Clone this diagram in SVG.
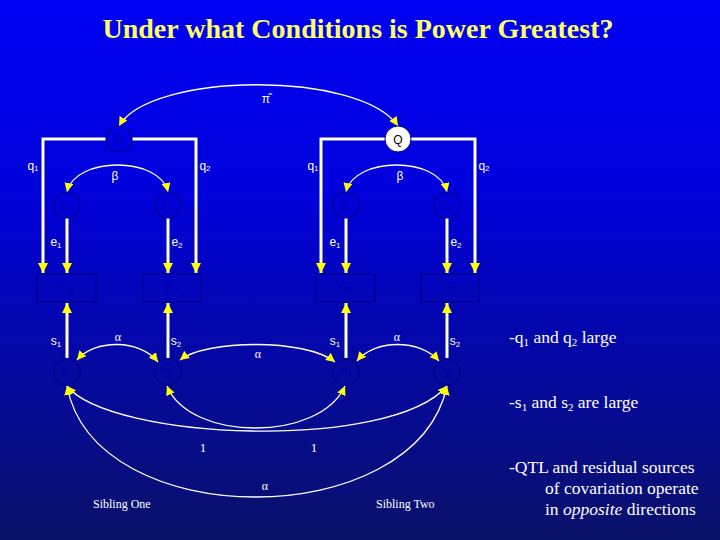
<svg xmlns="http://www.w3.org/2000/svg" width="720" height="540" viewBox="0 0 720 540">
<defs>
<linearGradient id="bg" x1="0" y1="0" x2="0" y2="1">
<stop offset="0" stop-color="#0000f4"/>
<stop offset="0.35" stop-color="#0000dc"/>
<stop offset="1" stop-color="#0a1168"/>
</linearGradient>
<marker id="ah" viewBox="0 0 10 10" refX="10" refY="5" markerWidth="9" markerHeight="9" markerUnits="userSpaceOnUse" orient="auto-start-reverse">
<path d="M0,0 L10,5 L0,10 z" fill="#ffff00"/>
</marker>
<marker id="ahb" viewBox="0 0 10 10" refX="10" refY="5" markerWidth="10" markerHeight="10" markerUnits="userSpaceOnUse" orient="auto-start-reverse">
<path d="M0,0 L10,5 L0,10 z" fill="#ffff00"/>
</marker>
</defs>
<style>
.node{fill:none;stroke:#000088;stroke-width:1.2}
.nl{font-family:"Liberation Sans",Arial,sans-serif;font-size:12px;fill:#0000a8;text-anchor:middle}
.line{fill:none;stroke:#ffffcc;stroke-width:3;marker-end:url(#ahb)}
.curve{fill:none;stroke:#ffffff;stroke-width:1.3;marker-start:url(#ah);marker-end:url(#ah)}
.lab{font-family:"Liberation Sans",Arial,sans-serif;font-size:12px;fill:#ffffff;text-anchor:middle}
.ser{font-family:"Liberation Serif","Times New Roman",serif;fill:#ffffff}
.side{font-family:"Liberation Serif","Times New Roman",serif;font-size:17.5px;fill:#ffffff}
.sub{font-size:8px}
</style>
<rect x="0" y="0" width="720" height="540" fill="url(#bg)"/>
<text x="358" y="38" text-anchor="middle" font-family="'Liberation Serif','Times New Roman',serif" font-size="28" font-weight="bold" fill="#ffff66">Under what Conditions is Power Greatest?</text>

<g id="connectors">
<path class="curve" d="M119,126 C150,72 360,70 398,126"/>
<path class="line" d="M106,139 H43 V273"/>
<path class="line" d="M132,139 H196 V273"/>
<path class="line" d="M385,139 H321 V273"/>
<path class="line" d="M411,139 H475 V273"/>
<path class="curve" d="M67,192 C75,156 160,156 168,192"/>
<path class="curve" d="M346,192 C354,156 439,156 447,192"/>
<path class="line" d="M67,218 V273"/>
<path class="line" d="M168,218 V273"/>
<path class="line" d="M346,218 V273"/>
<path class="line" d="M447,218 V273"/>
<path class="line" d="M67,358 V303"/>
<path class="line" d="M168,358 V303"/>
<path class="line" d="M346,358 V303"/>
<path class="line" d="M447,358 V303"/>
<path class="curve" d="M77,360 C95,339 140,339 158,362"/>
<path class="curve" d="M357,361 C375,339 420,339 439,361"/>
<path class="curve" d="M180,360 C205,340 305,338 335,362"/>
<path class="curve" d="M67,386 C110,440 390,452 447,386"/>
<path class="curve" d="M167,386 C190,442 320,442 345,386"/>
<path class="curve" d="M67,386 C95,534 415,534 447,386"/>
</g>

<g id="Q1"><circle class="node" cx="119" cy="139" r="13"/><text class="nl" x="119" y="144">Q</text></g>
<g id="Q2"><circle cx="398" cy="139" r="13" fill="#ffffff" stroke="#000088" stroke-width="1"/><text x="398" y="144" text-anchor="middle" font-family="'Liberation Sans',Arial,sans-serif" font-size="12" fill="#000000">Q</text></g>
<g id="E1a"><circle class="node" cx="67" cy="205" r="13"/><text class="nl" x="67" y="210">E<tspan class="sub">1</tspan></text></g>
<g id="E2a"><circle class="node" cx="168" cy="205" r="13"/><text class="nl" x="168" y="210">E<tspan class="sub">2</tspan></text></g>
<g id="E1b"><circle class="node" cx="346" cy="205" r="13"/><text class="nl" x="346" y="210">E<tspan class="sub">1</tspan></text></g>
<g id="E2b"><circle class="node" cx="447" cy="205" r="13"/><text class="nl" x="447" y="210">E<tspan class="sub">2</tspan></text></g>
<g id="Y11"><rect class="node" x="37" y="274" width="59" height="28"/><text class="nl" x="66" y="292">Y<tspan class="sub">11</tspan></text></g>
<g id="Y12"><rect class="node" x="143" y="274" width="58" height="28"/><text class="nl" x="172" y="292">Y<tspan class="sub">12</tspan></text></g>
<g id="Y21"><rect class="node" x="316" y="274" width="59" height="28"/><text class="nl" x="345" y="292">Y<tspan class="sub">21</tspan></text></g>
<g id="Y22"><rect class="node" x="421" y="274" width="58" height="28"/><text class="nl" x="450" y="292">Y<tspan class="sub">22</tspan></text></g>
<g id="S1a"><circle class="node" cx="67" cy="372" r="13"/><text class="nl" x="67" y="377">S<tspan class="sub">1</tspan></text></g>
<g id="S2a"><circle class="node" cx="168" cy="372" r="13"/><text class="nl" x="168" y="377">S<tspan class="sub">2</tspan></text></g>
<g id="S1b"><circle class="node" cx="346" cy="372" r="13"/><text class="nl" x="346" y="377">S<tspan class="sub">1</tspan></text></g>
<g id="S2b"><circle class="node" cx="447" cy="372" r="13"/><text class="nl" x="447" y="377">S<tspan class="sub">2</tspan></text></g>

<g id="labels">
<text class="lab" x="266" y="103" font-family="'DejaVu Serif',serif" font-size="12">π̂</text>
<text class="lab" x="33" y="170">q<tspan class="sub" dy="1">1</tspan></text>
<text class="lab" x="205" y="170">q<tspan class="sub" dy="1">2</tspan></text>
<text class="lab" x="313" y="170">q<tspan class="sub" dy="1">1</tspan></text>
<text class="lab" x="484" y="170">q<tspan class="sub" dy="1">2</tspan></text>
<text class="lab" x="115" y="180" font-family="'DejaVu Sans',sans-serif" font-size="11">β</text>
<text class="lab" x="400" y="180" font-family="'DejaVu Sans',sans-serif" font-size="11">β</text>
<text class="lab" x="56" y="246">e<tspan class="sub" dy="2">1</tspan></text>
<text class="lab" x="177" y="246">e<tspan class="sub" dy="2">2</tspan></text>
<text class="lab" x="335" y="246">e<tspan class="sub" dy="2">1</tspan></text>
<text class="lab" x="456" y="246">e<tspan class="sub" dy="2">2</tspan></text>
<text class="lab" x="56" y="345">s<tspan class="sub" dy="2">1</tspan></text>
<text class="lab" x="176" y="345">s<tspan class="sub" dy="2">2</tspan></text>
<text class="lab" x="335" y="345">s<tspan class="sub" dy="2">1</tspan></text>
<text class="lab" x="455" y="345">s<tspan class="sub" dy="2">2</tspan></text>
<text class="ser" x="118" y="341" font-size="12" text-anchor="middle">α</text>
<text class="ser" x="258" y="358" font-size="12" text-anchor="middle">α</text>
<text class="ser" x="397" y="341" font-size="12" text-anchor="middle">α</text>
<text class="ser" x="203" y="452" font-size="13" text-anchor="middle">1</text>
<text class="ser" x="314" y="452" font-size="13" text-anchor="middle">1</text>
<text class="ser" x="265" y="490" font-size="12" text-anchor="middle">α</text>
<text class="ser" x="93" y="508" font-size="12">Sibling One</text>
<text class="ser" x="376" y="508" font-size="12">Sibling Two</text>
<text class="side" x="509" y="343">-q<tspan font-size="11" dy="3">1</tspan><tspan dy="-3"> and q</tspan><tspan font-size="11" dy="3">2</tspan><tspan dy="-3"> large</tspan></text>
<text class="side" x="509" y="408">-s<tspan font-size="11" dy="3">1</tspan><tspan dy="-3"> and s</tspan><tspan font-size="11" dy="3">2</tspan><tspan dy="-3"> are large</tspan></text>
<text class="side" x="509" y="473">-QTL and residual sources</text>
<text class="side" x="545" y="494">of covariation operate</text>
<text class="side" x="545" y="515">in <tspan font-style="italic">opposite</tspan> directions</text>
</g>
</svg>
